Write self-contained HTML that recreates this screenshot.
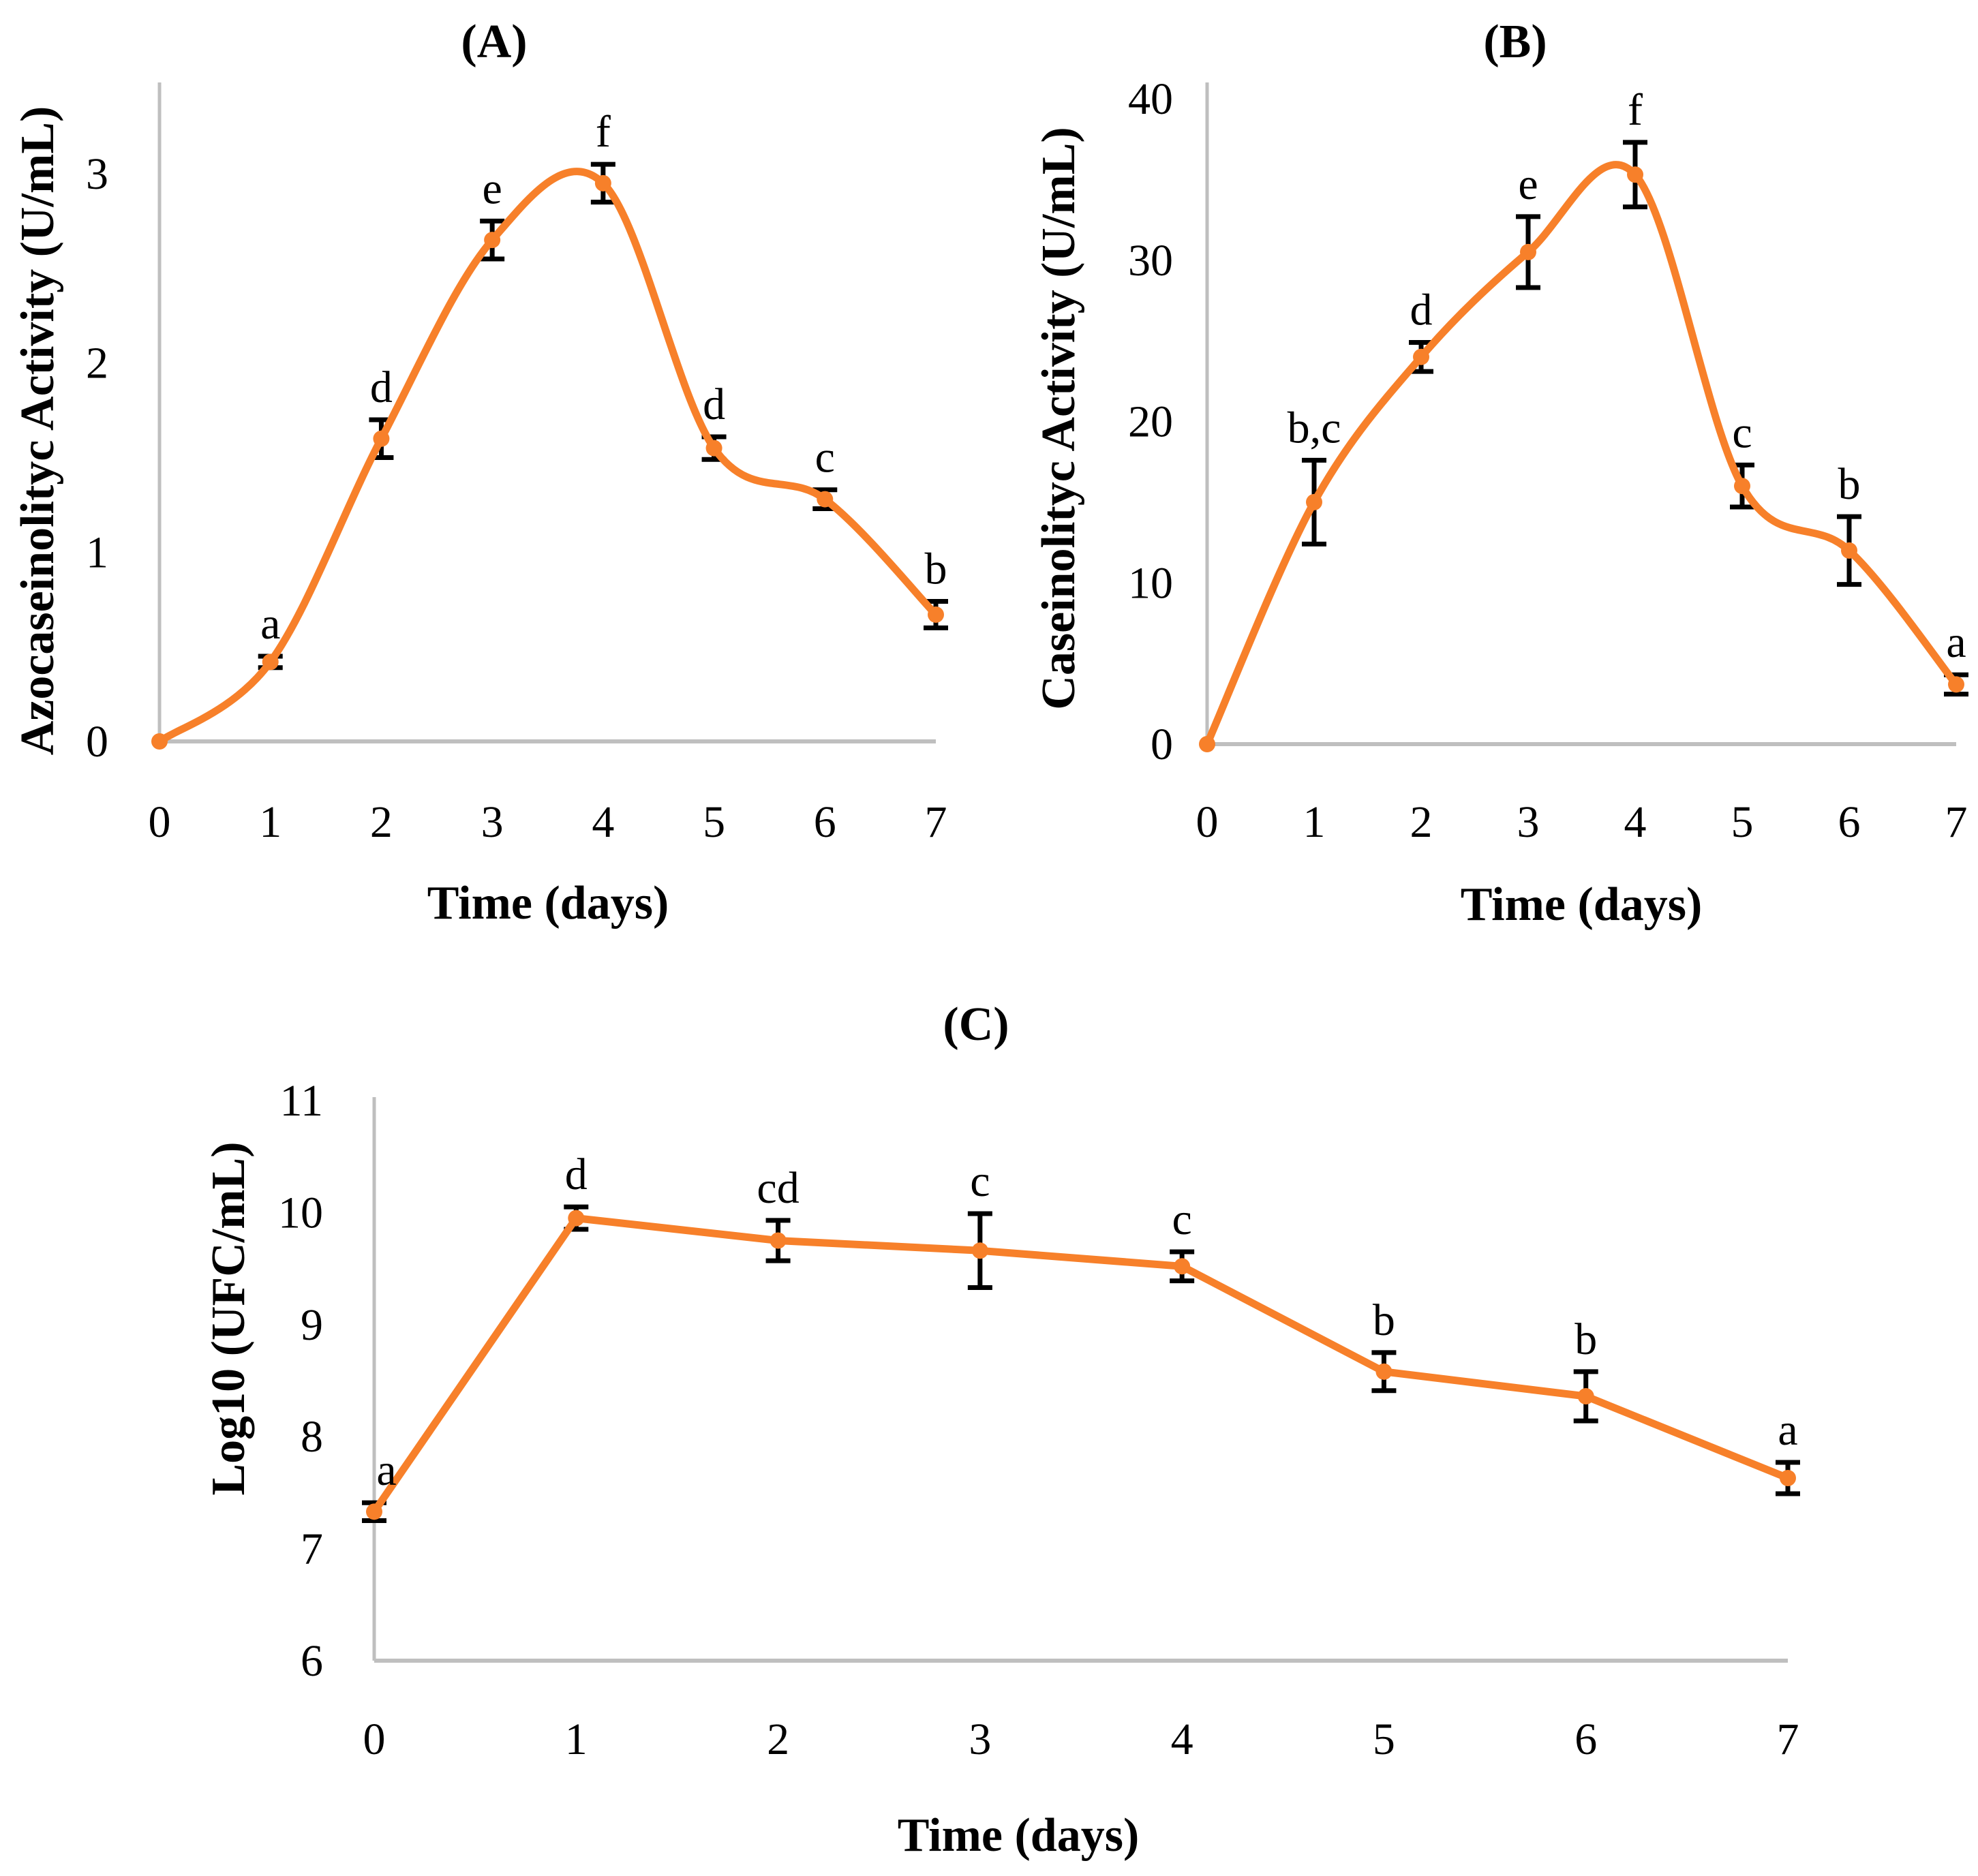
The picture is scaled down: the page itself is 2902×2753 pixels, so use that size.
<!DOCTYPE html>
<html><head><meta charset="utf-8"><style>
html,body{margin:0;padding:0;background:#fff;}
svg{display:block;font-family:"Liberation Serif",serif;}
</style></head><body>
<svg id="fig" width="2902" height="2753" viewBox="0 0 2902 2753" xmlns="http://www.w3.org/2000/svg"></svg>
<script>
const days = [0,1,2,3,4,5,6,7];
const aValues = [0,0.42,1.6,2.65,2.95,1.55,1.28,0.67];
const aErrors = [0,0.03,0.1,0.1,0.1,0.06,0.05,0.07];
const aLetters = ["","a","d","e","f","d","c","b"];
const aTicks = [0,1,2,3];
const bValues = [0,15,24,30.5,35.3,16,12,3.7];
const bErrors = [0,2.6,0.9,2.2,2.0,1.3,2.1,0.6];
const bLetters = ["","b,c","d","e","f","c","b","a"];
const bTicks = [0,10,20,30,40];
const cValues = [7.33,9.95,9.75,9.66,9.52,8.58,8.36,7.63];
const cErrors = [0.08,0.1,0.18,0.33,0.13,0.17,0.22,0.14];
const cLetters = ["a","d","cd","c","c","b","b","a"];
const cTicks = [6,7,8,9,10,11];

const NS="http://www.w3.org/2000/svg";
const svg=document.getElementById('fig');
function mk(tag,attrs,parent){const e=document.createElementNS(NS,tag);for(const k in attrs)e.setAttribute(k,attrs[k]);(parent||svg).appendChild(e);return e;}
const ORANGE="#F7802A";

function panel(cfg){
  const g=mk('g',{});
  
  
  const xs=v=>cfg.x0+(v-days[0])*(cfg.x7-cfg.x0)/7;
  const ys=v=>cfg.yb-(v-cfg.ymin)*(cfg.yb-cfg.yt)/(cfg.ymax-cfg.ymin);
  const yax=mk('line',{x1:cfg.x0,y1:cfg.axTop,x2:cfg.x0,y2:cfg.yb,stroke:'#bfbfbf','stroke-width':5},g);
  
  const xax=mk('line',{x1:cfg.x0,y1:cfg.yb,x2:cfg.x7,y2:cfg.yb,stroke:'#bfbfbf','stroke-width':6},g);
  
  cfg.ticks.forEach(t=>{const e=mk('text',{x:cfg.x0-cfg.tickGap,y:ys(t)+22,'text-anchor':'end','font-size':66},g);e.textContent=t;
    });
  days.forEach(d=>{const e=mk('text',{x:xs(d),y:cfg.xTickY,'text-anchor':'middle','font-size':66},g);e.textContent=d;
    });
  const tt=mk('text',{x:cfg.titleX,y:cfg.titleY,'text-anchor':'middle','font-size':70,'font-weight':'bold'},g);tt.textContent=cfg.title;
  
  const xl=mk('text',{x:cfg.xlX,y:cfg.xlY,'text-anchor':'middle','font-size':70,'font-weight':'bold'},g);xl.textContent='Time (days)';
  
  const yl=mk('text',{x:0,y:0,'text-anchor':'middle','font-size':70,'font-weight':'bold',transform:`translate(${cfg.ylX},${cfg.ylY}) rotate(-90)`},g);yl.textContent=cfg.ytitle;
  
  const P=cfg.values.map((v,i)=>[xs(days[i]),ys(v)]);
  let d='M'+P[0][0]+','+P[0][1];
  for(let i=0;i<P.length-1;i++){
    if(cfg.smooth){
      const p0=P[Math.max(i-1,0)],p1=P[i],p2=P[i+1],p3=P[Math.min(i+2,P.length-1)];
      const c1=[p1[0]+(p2[0]-p0[0])/6,p1[1]+(p2[1]-p0[1])/6];
      const c2=[p2[0]-(p3[0]-p1[0])/6,p2[1]-(p3[1]-p1[1])/6];
      d+=` C${c1[0]},${c1[1]} ${c2[0]},${c2[1]} ${p2[0]},${p2[1]}`;
    } else d+=` L${P[i+1][0]},${P[i+1][1]}`;
  }
  cfg.values.forEach((v,i)=>{
    const e=cfg.errors[i]; if(!e) return;
    const x=xs(days[i]),y1=ys(v+e),y2=ys(v-e);
    const eb=mk('path',{d:`M${x},${y1}V${y2}M${x-18},${y1}H${x+18}M${x-18},${y2}H${x+18}`,stroke:'#000','stroke-width':7,fill:'none'},g);
    
  });
  const ln=mk('path',{d:d,stroke:ORANGE,'stroke-width':11,fill:'none','stroke-linejoin':'round'},g);
  
  cfg.values.forEach((v,i)=>{
    const c=mk('circle',{cx:xs(days[i]),cy:ys(v),r:12,fill:ORANGE},g);
    
    if(cfg.letters[i]){
      const lt=mk('text',{x:xs(days[i])+(i==0?18:0),y:ys(v+cfg.errors[i])-26,'text-anchor':'middle','font-size':66},g);
      lt.textContent=cfg.letters[i];
      
    }
  });
}
panel({id:'panel-a',x0:234,x7:1373,yb:1088,yt:255,ymin:0,ymax:3,axTop:121,ticks:aTicks,tickGap:75,xTickY:1228,
  values:aValues,errors:aErrors,letters:aLetters,smooth:true,title:'(A)',titleX:725,titleY:84,xlX:804,xlY:1348,
  ylX:78,ylY:632,ytitle:'Azocaseinolityc Activity (U/mL)'});
panel({id:'panel-b',x0:1771,x7:2870,yb:1092,yt:145,ymin:0,ymax:40,axTop:121,ticks:bTicks,tickGap:50,xTickY:1228,
  values:bValues,errors:bErrors,letters:bLetters,smooth:true,title:'(B)',titleX:2223,titleY:84,xlX:2320,xlY:1350,
  ylX:1576,ylY:614,ytitle:'Caseinolityc Activity (U/mL)'});
panel({id:'panel-c',x0:549,x7:2623,yb:2437,yt:1615,ymin:6,ymax:11,axTop:1610,ticks:cTicks,tickGap:75,xTickY:2574,
  values:cValues,errors:cErrors,letters:cLetters,smooth:false,title:'(C)',titleX:1432,titleY:1526,xlX:1494,xlY:2716,
  ylX:358,ylY:1935,ytitle:'Log10 (UFC/mL)'});
</script>
</body></html>
